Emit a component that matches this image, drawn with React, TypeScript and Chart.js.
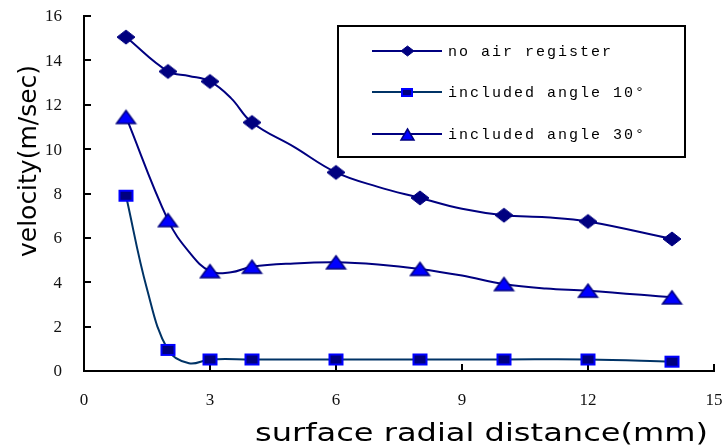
import React, { useEffect, useRef } from 'react';
import { Chart, registerables } from 'chart.js';

Chart.register(...registerables);

// ---------- data ----------
const seriesNames = ['no air register', 'included angle 10°', 'included angle 30°'];

const noAirX = [1, 2, 3, 4, 6, 8, 10, 12, 14];
const noAirY = [15.05, 13.5, 13.05, 11.2, 8.95, 7.8, 7.02, 6.74, 5.95];
const noAirCurveX = [2.5, 3.5, 5, 7, 9, 11];
const noAirCurveY = [13.3, 12.3, 10.1, 8.3, 7.31, 6.93];

const angle10X = [1, 2, 3, 4, 6, 8, 10, 12, 14];
const angle10Y = [7.9, 0.95, 0.52, 0.52, 0.52, 0.52, 0.52, 0.52, 0.42];
const angle10CurveX = [1.5, 2.5];
const angle10CurveY = [3.7, 0.35];

const angle30X = [1, 2, 3, 4, 6, 8, 10, 12, 14];
const angle30Y = [11.45, 6.8, 4.5, 4.7, 4.9, 4.6, 3.92, 3.62, 3.32];
const angle30CurveX = [2.5, 3.5, 5, 7, 9, 11];
const angle30CurveY = [5.37, 4.45, 4.85, 4.8, 4.3, 3.72];

const xTickValues = [0, 3, 6, 9, 12, 15];
const yTickValues = [0, 2, 4, 6, 8, 10, 12, 14, 16];

const xTitle = 'surface radial distance(mm)';
const yTitle = 'velocity(m/sec)';

// ---------- helpers ----------
function pts(xs: number[], ys: number[]) {
  return xs.map((x, i) => ({ x, y: ys[i] }));
}
function curve(xs: number[], ys: number[], cx: number[], cy: number[]) {
  return [...pts(xs, ys), ...pts(cx, cy)].sort((a, b) => a.x - b.x);
}

type Kind = 'diamond' | 'square' | 'triangle';
function makeMarker(kind: Kind, w: number, h: number, fill: string, stroke: string, lw: number) {
  const c = document.createElement('canvas');
  const pad = 2;
  c.width = w + pad * 2;
  c.height = h + pad * 2;
  const ctx = c.getContext('2d')!;
  const x0 = pad, y0 = pad;
  ctx.beginPath();
  if (kind === 'diamond') {
    ctx.moveTo(x0 + w / 2, y0);
    ctx.lineTo(x0 + w, y0 + h / 2);
    ctx.lineTo(x0 + w / 2, y0 + h);
    ctx.lineTo(x0, y0 + h / 2);
    ctx.closePath();
  } else if (kind === 'square') {
    ctx.rect(x0 + lw / 2, y0 + lw / 2, w - lw, h - lw);
  } else {
    ctx.moveTo(x0 + w / 2, y0);
    ctx.lineTo(x0 + w, y0 + h);
    ctx.lineTo(x0, y0 + h);
    ctx.closePath();
  }
  ctx.fillStyle = fill;
  ctx.fill();
  ctx.lineWidth = lw;
  ctx.strokeStyle = stroke;
  ctx.lineJoin = 'miter';
  ctx.stroke();
  return c;
}

const NAVY = '#000080';
const BLUE = '#0000FF';
const TEAL = '#003366';

export default function App() {
  const ref = useRef<HTMLCanvasElement>(null);

  useEffect(() => {
    const canvas = ref.current!;
    const mDiamond = makeMarker('diamond', 18, 14, NAVY, NAVY, 1);
    const mSquare = makeMarker('square', 15, 12, NAVY, BLUE, 2);
    const mTriangle = makeMarker('triangle', 19, 13, BLUE, NAVY, 1.5);
    const lDiamond = makeMarker('diamond', 13, 10, NAVY, NAVY, 1);
    const lSquare = makeMarker('square', 12, 9, NAVY, BLUE, 2);
    const lTriangle = makeMarker('triangle', 13, 11, BLUE, NAVY, 1.5);

    const lineColors = [NAVY, TEAL, NAVY];
    const legendMarkers = [lDiamond, lSquare, lTriangle];

    const decor = {
      id: 'decor',
      beforeDatasetsDraw(chart: any) {
        const ctx = chart.ctx;
        const xs = chart.scales.x;
        const ys = chart.scales.y;
        const L = xs.getPixelForValue(0);
        const R = xs.getPixelForValue(15);
        const B = ys.getPixelForValue(0);
        const T = ys.getPixelForValue(16);
        ctx.save();
        ctx.strokeStyle = '#000';
        ctx.lineWidth = 2;
        ctx.lineCap = 'square';
        ctx.beginPath();
        ctx.moveTo(L, T);
        ctx.lineTo(L, B);
        ctx.lineTo(R, B);
        ctx.stroke();
        ctx.lineCap = 'butt';
        ctx.beginPath();
        yTickValues.forEach((v) => {
          const y = Math.round(ys.getPixelForValue(v));
          ctx.moveTo(L, y);
          ctx.lineTo(L + 7, y);
        });
        xTickValues.forEach((v) => {
          const x = Math.round(xs.getPixelForValue(v));
          ctx.moveTo(x, B);
          ctx.lineTo(x, B - 7);
        });
        ctx.stroke();

        // tick labels
        ctx.fillStyle = '#111';
        ctx.font = '17px "Liberation Serif"';
        ctx.textBaseline = 'middle';
        ctx.textAlign = 'right';
        yTickValues.forEach((v) => {
          ctx.fillText(String(v), 62, ys.getPixelForValue(v) + 1);
        });
        ctx.textAlign = 'center';
        xTickValues.forEach((v) => {
          ctx.fillText(String(v), xs.getPixelForValue(v), 401);
        });
        ctx.restore();
      },
      afterDraw(chart: any) {
        const ctx = chart.ctx;
        ctx.save();
        // x title (horizontally stretched)
        ctx.font = '24px "DejaVu Sans"';
        ctx.fillStyle = '#000';
        ctx.textBaseline = 'alphabetic';
        ctx.textAlign = 'left';
        const wX = ctx.measureText(xTitle).width;
        const targetX = 453;
        ctx.save();
        ctx.translate(255, 441);
        ctx.scale(targetX / wX, 1);
        ctx.fillText(xTitle, 0, 0);
        ctx.restore();
        // y title
        const wY = ctx.measureText(yTitle).width;
        const targetY = 192;
        ctx.save();
        ctx.translate(36, 257);
        ctx.rotate(-Math.PI / 2);
        ctx.scale(targetY / wY, 1);
        ctx.fillText(yTitle, 0, 0);
        ctx.restore();

        // legend
        ctx.strokeStyle = '#000';
        ctx.lineWidth = 2;
        ctx.strokeRect(338, 26, 347, 131);
        const rows = [51, 92, 134];
        ctx.font = '15px "Liberation Mono"';
        ctx.textBaseline = 'middle';
        (ctx as any).letterSpacing = '2px';
        seriesNames.forEach((name, i) => {
          const y = rows[i];
          ctx.strokeStyle = lineColors[i];
          ctx.lineWidth = 2;
          ctx.beginPath();
          ctx.moveTo(372, y);
          ctx.lineTo(442, y);
          ctx.stroke();
          const m = legendMarkers[i];
          ctx.drawImage(m, Math.round(407 - m.width / 2), Math.round(y - m.height / 2));
          ctx.fillStyle = '#000';
          ctx.fillText(name, 448, y + 1);
        });
        ctx.restore();
      },
    };

    const chart = new Chart(canvas, {
      type: 'line',
      data: {
        datasets: [
          { label: seriesNames[0] + ' markers', data: pts(noAirX, noAirY), showLine: false, pointStyle: mDiamond as any, order: 0 },
          { label: seriesNames[1] + ' markers', data: pts(angle10X, angle10Y), showLine: false, pointStyle: mSquare as any, order: 0 },
          { label: seriesNames[2] + ' markers', data: pts(angle30X, angle30Y), showLine: false, pointStyle: mTriangle as any, order: 0 },
          { label: seriesNames[0], data: curve(noAirX, noAirY, noAirCurveX, noAirCurveY), borderColor: NAVY, borderWidth: 2, pointRadius: 0, tension: 0.4, order: 1 },
          { label: seriesNames[1], data: curve(angle10X, angle10Y, angle10CurveX, angle10CurveY), borderColor: TEAL, borderWidth: 2, pointRadius: 0, tension: 0.4, order: 1 },
          { label: seriesNames[2], data: curve(angle30X, angle30Y, angle30CurveX, angle30CurveY), borderColor: NAVY, borderWidth: 2, pointRadius: 0, tension: 0.4, order: 1 },
        ] as any,
      },
      options: {
        responsive: false,
        animation: false,
        events: [],
        layout: { padding: { top: 16, right: 11, left: 0, bottom: 0 } },
        plugins: { legend: { display: false }, tooltip: { enabled: false } },
        scales: {
          x: {
            type: 'linear',
            min: 0,
            max: 15,
            ticks: { display: false, stepSize: 3 },
            grid: { display: false, drawTicks: false },
            border: { display: false },
            afterFit: (s: any) => { s.height = 75; },
          },
          y: {
            type: 'linear',
            min: 0,
            max: 16,
            ticks: { display: false, stepSize: 2 },
            grid: { display: false, drawTicks: false },
            border: { display: false },
            afterFit: (s: any) => { s.width = 84; },
          },
        },
      } as any,
      plugins: [decor],
    });
    return () => chart.destroy();
  }, []);

  return (
    <div style={{ position: 'absolute', left: 0, top: 0, width: 725, height: 446, background: '#fff' }}>
      <canvas ref={ref} width={725} height={446} style={{ display: 'block' }} />
    </div>
  );
}
